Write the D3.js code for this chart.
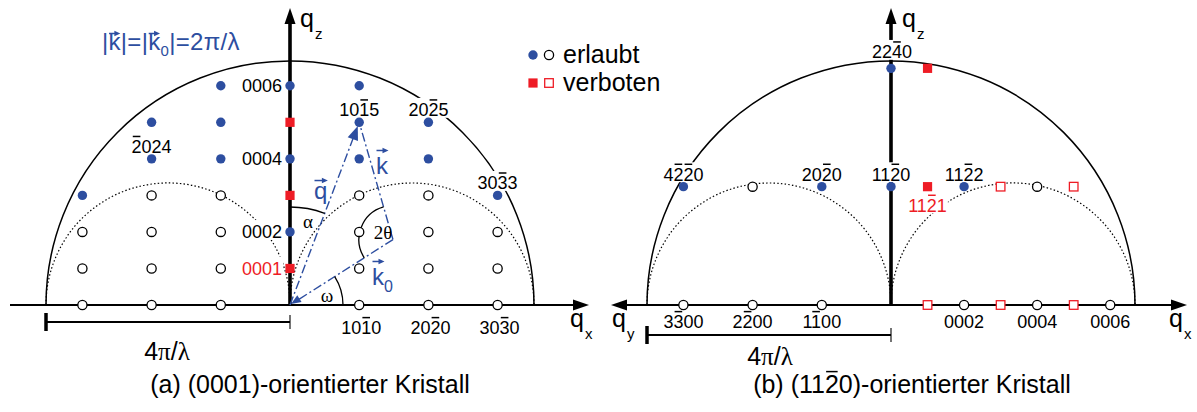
<!DOCTYPE html>
<html><head><meta charset="utf-8">
<script src="https://cdn.jsdelivr.net/npm/d3@7"></script>
<style>
html,body{margin:0;padding:0;background:#fff;}
svg{display:block;font-family:"Liberation Sans",Arial,Helvetica,sans-serif;}
</style></head>
<body><svg id="c" width="1197" height="412"></svg>
<script>
// ---------------- data ----------------
const unitA = 1.0;     // |G(10-10)|  (step along q_x in (a), along q_y in (b))
const unitC = 0.528;   // |G(0001)|
const unitB = 1.71;    // |G(11-20)|
const ewaldR = 3.526;  // 4π/λ (limiting sphere radius)

// panel (a): [h, l, kind]   a = erlaubt/erreichbar, i = nicht erreichbar, f = verboten, fi = verboten/nicht erreichbar
const pointsA = [
  [-3,0,'i'],[-2,0,'i'],[-1,0,'i'],[1,0,'i'],[2,0,'i'],[3,0,'i'],
  [-3,1,'i'],[-2,1,'i'],[-1,1,'i'],[0,1,'f'],[1,1,'i'],[2,1,'i'],[3,1,'i'],
  [-3,2,'i'],[-2,2,'i'],[-1,2,'i'],[0,2,'a'],[1,2,'i'],[2,2,'i'],[3,2,'i'],
  [-3,3,'a'],[-2,3,'i'],[-1,3,'i'],[0,3,'f'],[1,3,'i'],[2,3,'i'],[3,3,'a'],
  [-2,4,'a'],[-1,4,'a'],[0,4,'a'],[1,4,'a'],[2,4,'a'],
  [-2,5,'a'],[-1,5,'a'],[0,5,'f'],[1,5,'a'],[2,5,'a'],
  [-1,6,'a'],[0,6,'a'],[1,6,'a']
];
// labels (a): [h, l, text ('~' = overline on next char), placement, colour]
const labelsA = [
  [0,6,'0006','left','k'],[0,4,'0004','left','k'],[0,2,'0002','left','k'],[0,1,'0001','left','r'],
  [1,5,'10~15','above','k'],[2,5,'20~25','above','k'],[-2,4,'~2024','above','k'],[3,3,'30~33','above','k'],
  [1,0,'10~10','below','k'],[2,0,'20~20','below','k'],[3,0,'30~30','below','k']
];
// panel (b): [axis, n, row, kind]   axis 'y' -> q_y (n * unitA, left), 'x' -> q_x (n * unitC, right); row -> n * unitB
const pointsB = [
  ['y',3,0,'i'],['y',2,0,'i'],['y',1,0,'i'],
  ['x',1,0,'fi'],['x',2,0,'i'],['x',3,0,'fi'],['x',4,0,'i'],['x',5,0,'fi'],['x',6,0,'i'],
  ['y',3,1,'a'],['y',2,1,'i'],['y',1,1,'a'],['x',0,1,'a'],
  ['x',1,1,'f'],['x',2,1,'a'],['x',3,1,'fi'],['x',4,1,'i'],['x',5,1,'fi'],
  ['x',0,2,'a'],['x',1,2,'f']
];
const labelsB = [
  ['x',0,2,'22~40','top','k'],['y',3,1,'4~2~20','above','k'],['y',1,1,'20~20','above','k'],
  ['x',0,1,'11~20','above','k'],['x',2,1,'11~22','above','k'],['x',1,1,'11~21','under','r'],
  ['y',3,0,'3~300','below','k'],['y',2,0,'2~200','below','k'],['y',1,0,'1~100','below','k'],
  ['x',2,0,'0002','below','k'],['x',4,0,'0004','below','k'],['x',6,0,'0006','below','k']
];
const ewaldPoint = [1,5];   // reflection 10-15 used for the construction
const legendItems = [['a','i','erlaubt'],['f','fi','verboten']];
const captions = ['(a) (0001)-orientierter Kristall','(b) (11~20)-orientierter Kristall'];

// ---------------- drawing ----------------
const BLUE = '#2d4ea0', RED = '#ee1c25';
const svg = d3.select('#c');
const xA = d3.scaleLinear().domain([-ewaldR, ewaldR]).range([46, 534]);
const xB = d3.scaleLinear().domain([-ewaldR, ewaldR]).range([647, 1135]);
const yQ = d3.scaleLinear().domain([0, ewaldR]).range([305, 61]);
const pxR = xA(ewaldR) - xA(0);

const gArcs = svg.append('g'), gAx = svg.append('g'), gVec = svg.append('g'),
      gLab = svg.append('g'), gPts = svg.append('g'), gTxt = svg.append('g');

function upperArc(cx, cy, r) { const p = d3.path(); p.moveTo(cx - r, cy); p.arc(cx, cy, r, Math.PI, 2*Math.PI); return p.toString(); }

[xA, xB].forEach(sx => {
  const c0 = sx(0), cy = yQ(0);
  gArcs.append('path').attr('d', upperArc(c0, cy, pxR)).attr('fill','none').attr('stroke','#000').attr('stroke-width',1.5);
  [-1, 1].forEach(s => {
    const cc = sx(s*ewaldR/2), rr = sx(ewaldR/2) - sx(0);
    gArcs.append('path').attr('d', upperArc(cc, cy, rr)).attr('fill','none').attr('stroke','#000')
      .attr('stroke-width',1.2).attr('stroke-dasharray','1.5,2.2');
  });
});

function arrowHead(g, tip, dir, len, hw, color) {
  const [tx, ty] = tip, [dx, dy] = dir, n = Math.hypot(dx, dy), ux = dx/n, uy = dy/n;
  const bx = tx - ux*len, by = ty - uy*len;
  g.append('path').attr('d', `M${tx},${ty}L${bx - uy*hw},${by + ux*hw}L${bx + uy*hw},${by - ux*hw}Z`).attr('fill', color);
}

// axes
const y0 = yQ(0);
gAx.append('line').attr('x1',10).attr('x2',575).attr('y1',y0).attr('y2',y0).attr('stroke','#000').attr('stroke-width',2.2);
arrowHead(gAx,[589,y0],[1,0],16,5.5,'#000');
gAx.append('line').attr('x1',xA(0)).attr('x2',xA(0)).attr('y1',y0).attr('y2',22).attr('stroke','#000').attr('stroke-width',3.6);
arrowHead(gAx,[xA(0),8],[0,-1],16,5.5,'#000');
gAx.append('line').attr('x1',625).attr('x2',1173).attr('y1',y0).attr('y2',y0).attr('stroke','#000').attr('stroke-width',2.2);
arrowHead(gAx,[1187,y0],[1,0],16,5.5,'#000');
arrowHead(gAx,[611,y0],[-1,0],16,5.5,'#000');
gAx.append('line').attr('x1',xB(0)).attr('x2',xB(0)).attr('y1',y0).attr('y2',22).attr('stroke','#000').attr('stroke-width',3.6);
arrowHead(gAx,[xB(0),8],[0,-1],16,5.5,'#000');

// axis names
function qLabel(x, y, sub) {
  const t = gTxt.append('text').attr('x',x).attr('y',y).attr('font-size',25).attr('fill','#000');
  t.append('tspan').text('q');
  t.append('tspan').attr('font-size',15).attr('dy',12).attr('dx',1).text(sub);
}
qLabel(300, 27, 'z'); qLabel(570, 327, 'x');
qLabel(902, 27, 'z'); qLabel(1169, 327, 'x'); qLabel(612, 327, 'y');

// scale bars 4π/λ
function scaleBar(sx, y, tx, ty) {
  gAx.append('line').attr('x1',sx(-ewaldR)).attr('x2',sx(0)).attr('y1',y).attr('y2',y).attr('stroke','#000').attr('stroke-width',1.8);
  gAx.append('line').attr('x1',sx(-ewaldR)).attr('x2',sx(-ewaldR)).attr('y1',y-9).attr('y2',y+9).attr('stroke','#000').attr('stroke-width',3.5);
  gAx.append('line').attr('x1',sx(0)).attr('x2',sx(0)).attr('y1',y-7).attr('y2',y+7).attr('stroke','#000').attr('stroke-width',1.1);
  const t = gTxt.append('text').attr('x',tx).attr('y',ty).attr('font-size',25).attr('text-anchor','middle');
  t.append('tspan').text('4');
  t.append('tspan').attr('font-family','"Liberation Serif",serif').text('π');
  t.append('tspan').text('/');
  t.append('tspan').attr('font-family','"Liberation Serif",serif').text('λ');
}
scaleBar(xA, 322, 167, 360);
scaleBar(xB, 335, 770, 365);

// labels with overlines
function label(g, x, y, str, o) {
  const size = o.size || 18, chars = [], bars = [];
  for (const ch of str) { if (ch === '~') bars.push(chars.length); else chars.push(ch); }
  const t = g.append('text').attr('x',x).attr('y',y).attr('font-size',size)
    .attr('text-anchor',o.anchor || 'middle').attr('fill',o.color || '#000').text(chars.join(''));
  const node = t.node(), capTop = y - 0.716*size;
  if (o.bg) {
    const bb = node.getBBox();
    g.insert('rect', () => node).attr('x',bb.x-1).attr('width',bb.width+2)
      .attr('y',capTop-5.5).attr('height',y+1.5-(capTop-5.5)).attr('fill','#fff');
  }
  bars.forEach(i => {
    const e = node.getExtentOfChar(i);
    g.append('line').attr('x1',e.x+1.2).attr('x2',e.x+e.width-1.2).attr('y1',capTop-3.5).attr('y2',capTop-3.5)
      .attr('stroke',o.color || '#000').attr('stroke-width',1.5);
  });
}
const colorOf = c => c === 'r' ? RED : '#000';
labelsA.forEach(([h,l,txt,pos,c]) => {
  const x = xA(h*unitA), y = yQ(l*unitC);
  if (pos === 'left') label(gLab, x-8, y+6.5, txt, {anchor:'end', color:colorOf(c), bg:true});
  else if (pos === 'above') label(gLab, x, y-6, txt, {color:colorOf(c), bg:true});
  else label(gLab, x+2, y+29, txt, {color:colorOf(c), bg:true});
});
const bx = (ax, n) => ax === 'y' ? xB(-n*unitA) : xB(n*unitC);
labelsB.forEach(([ax,n,row,txt,pos,c]) => {
  const x = bx(ax,n), y = yQ(row*unitB);
  if (pos === 'top') label(gLab, x+1, y-10, txt, {color:colorOf(c), bg:true});
  else if (pos === 'above') label(gLab, x, y-6, txt, {color:colorOf(c), bg:true});
  else if (pos === 'under') label(gLab, x, y+25, txt, {color:colorOf(c), bg:true});
  else label(gLab, x, y+23, txt, {color:colorOf(c), bg:true});
});

// Ewald construction (panel a)
const P = [ewaldPoint[0]*unitA, ewaldPoint[1]*unitC];
const kR = ewaldR/2, pl = Math.hypot(P[0],P[1]);
const dPerp = Math.sqrt(kR*kR - (pl/2)*(pl/2));
const C = [P[0]/2 + dPerp*P[1]/pl, P[1]/2 - dPerp*P[0]/pl];
const O = [xA(0), yQ(0)], Ps = [xA(P[0]), yQ(P[1])], Cs = [xA(C[0]), yQ(C[1])];
const dash = '9,3,2,3';
function vline(a, b) { gVec.append('line').attr('x1',a[0]).attr('y1',a[1]).attr('x2',b[0]).attr('y2',b[1])
  .attr('stroke',BLUE).attr('stroke-width',1.4).attr('stroke-dasharray',dash); }
const qdir = [Ps[0]-O[0], Ps[1]-O[1]], qn = Math.hypot(...qdir);
const qTip = [Ps[0]-qdir[0]/qn*4, Ps[1]-qdir[1]/qn*4];
vline(O, [qTip[0]-qdir[0]/qn*10, qTip[1]-qdir[1]/qn*10]);
arrowHead(gVec, qTip, qdir, 14, 5.5, BLUE);
vline(Cs, Ps);
const k0dir = [O[0]-Cs[0], O[1]-Cs[1]], k0n = Math.hypot(...k0dir);
vline(Cs, [O[0]-k0dir[0]/k0n*8, O[1]-k0dir[1]/k0n*8]);
arrowHead(gVec, [O[0]+1, O[1]-1], k0dir, 10, 4, BLUE);

// angle arcs
function angArc(c, r, a0, a1, ccw) { const p = d3.path(); p.arc(c[0], c[1], r, a0, a1, ccw);
  gVec.append('path').attr('d', p.toString()).attr('fill','none').attr('stroke','#000').attr('stroke-width',1.3); }
const angQ = Math.atan2(Ps[1]-O[1], Ps[0]-O[0]);
const angC = Math.atan2(Cs[1]-O[1], Cs[0]-O[0]);
angArc(O, 98, -Math.PI/2, angQ, false);
angArc(O, 53, angC, 0, false);
angArc(Cs, 34, Math.atan2(Ps[1]-Cs[1], Ps[0]-Cs[0]), Math.atan2(O[1]-Cs[1], O[0]-Cs[0]), true);
const serif = '"Liberation Serif","Times New Roman",serif';
gTxt.append('text').attr('x',308).attr('y',228).attr('font-size',19).attr('font-family',serif).attr('text-anchor','middle').text('α');
gTxt.append('text').attr('x',327).attr('y',302).attr('font-size',19).attr('font-family',serif).attr('text-anchor','middle').text('ω');
gTxt.append('text').attr('x',383).attr('y',239).attr('font-size',19).attr('font-family',serif).attr('text-anchor','middle').text('2θ');

// vector labels
function vecArrow(x1, x2, y, color) {
  gTxt.append('line').attr('x1',x1).attr('x2',x2-3).attr('y1',y).attr('y2',y).attr('stroke',color).attr('stroke-width',1.5);
  arrowHead(gTxt,[x2,y],[1,0],6,2.8,color);
}
function vecLabel(x, y, letter, sub) {
  const t = gTxt.append('text').attr('x',x).attr('y',y).attr('font-size',24).attr('fill',BLUE);
  t.append('tspan').text(letter);
  if (sub) t.append('tspan').attr('font-size',16).attr('dy',7).text(sub);
  const e = t.node().getExtentOfChar(0);
  const top = letter === 'q' ? y - 0.52*24 : y - 0.73*24;
  vecArrow(e.x+0.5, e.x+e.width+0.5, top-6, BLUE);
}
vecLabel(314, 199, 'q');
vecLabel(376, 174, 'k');
vecLabel(372, 285, 'k', '0');

// formula |k|=|k0|=2π/λ
(function(){
  const t = gTxt.append('text').attr('x',102).attr('y',50).attr('font-size',24).attr('fill',BLUE).attr('letter-spacing',0.3);
  t.append('tspan').text('|k|=|k');
  t.append('tspan').attr('font-size',15).attr('dy',6).text('0');
  t.append('tspan').attr('dy',-6).text('|=2π/λ');
  const n = t.node();
  [1,5].forEach(i => { const e = n.getExtentOfChar(i); vecArrow(e.x+0.5, e.x+e.width-0.5, 33.5, BLUE); });
})();

// points
function symbol(g, x, y, kind) {
  if (kind === 'a') g.append('circle').attr('cx',x).attr('cy',y).attr('r',4.7).attr('fill',BLUE);
  else if (kind === 'i') g.append('circle').attr('cx',x).attr('cy',y).attr('r',4.6).attr('fill','#fff').attr('stroke','#000').attr('stroke-width',1.3);
  else if (kind === 'f') g.append('rect').attr('x',x-4.6).attr('y',y-4.6).attr('width',9.2).attr('height',9.2).attr('fill',RED);
  else g.append('rect').attr('x',x-4.3).attr('y',y-4.3).attr('width',8.6).attr('height',8.6).attr('fill','#fff').attr('stroke',RED).attr('stroke-width',1.3);
}
pointsA.forEach(([h,l,k]) => symbol(gPts, xA(h*unitA), yQ(l*unitC), k));
pointsB.forEach(([ax,n,row,k]) => symbol(gPts, bx(ax,n), yQ(row*unitB), k));

// legend
legendItems.forEach(([k1,k2,txt], i) => {
  const y = 55 + i*28;
  symbol(gTxt, 533, y, k1); symbol(gTxt, 549, y, k2);
  gTxt.append('text').attr('x',563).attr('y',y+8).attr('font-size',25).text(txt);
});

// captions
captions.forEach((c, i) => label(gTxt, i === 0 ? 310 : 912, 393, c, {size:25}));
</script>
</body></html>
